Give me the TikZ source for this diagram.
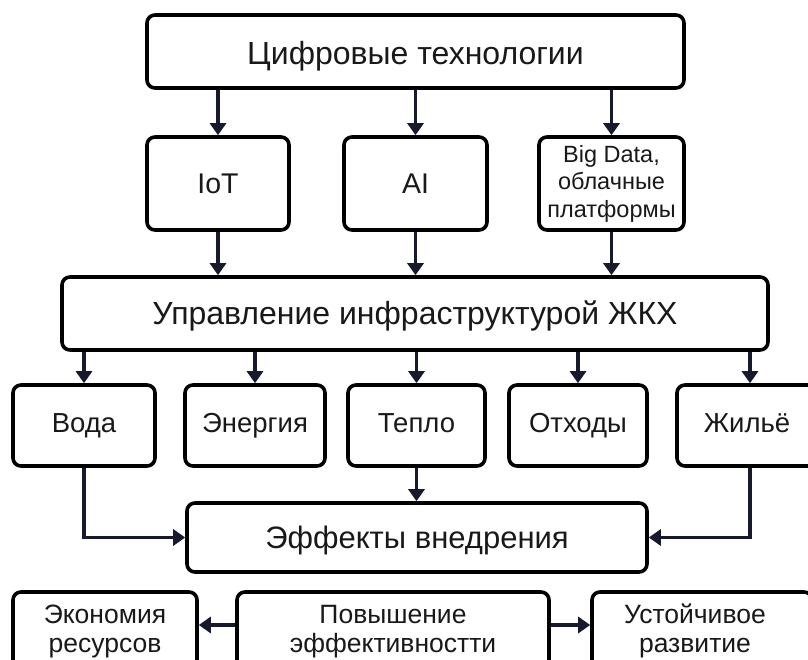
\documentclass[tikz,border=0pt]{standalone}
\usepackage{fontspec}
\setmainfont{Liberation Sans}
\usetikzlibrary{arrows.meta}
\definecolor{arrcol}{RGB}{22,26,44}
\tikzset{
  box/.style={draw=black, line width=3.6pt, rounded corners=8pt, fill=white, inner sep=0pt, align=center, text=black!90},
  sl/.style 2 args={text height=#1, text depth=#2},
  arr/.style={draw=arrcol, line width=3.4pt, -{Triangle[length=12pt,width=16pt]}},
  big/.style={font=\fontsize{32}{36}\selectfont},
  mid/.style={font=\fontsize{27.5}{32}\selectfont},
  sml/.style={font=\fontsize{26.5}{29}\selectfont},
  bd/.style={font=\fontsize{23.5}{27.5}\selectfont},
}
\begin{document}
\begin{tikzpicture}[x=1pt,y=-1pt]
\useasboundingbox[fill=white] (0,0) rectangle (808,660);
% top
\node[box,big,sl={28pt}{2pt},minimum width=537pt,minimum height=73pt] (top) at (415.5,51.5) {Цифровые технологии};
\node[box,sl={24pt}{3.6pt},font=\fontsize{28.5}{32}\selectfont,minimum width=142pt,minimum height=93pt] (iot) at (218,183.5) {IoT};
\node[box,sl={24pt}{3.6pt},font=\fontsize{28.5}{32}\selectfont,minimum width=143pt,minimum height=93pt] (ai) at (415.5,183.5) {AI};
\node[box,bd,minimum width=145pt,minimum height=93pt] (bdata) at (611.5,183.5) {Big Data,\\облачные\\платформы};
\node[box,big,sl={24pt}{3pt},minimum width=706pt,minimum height=73pt] (mgmt) at (415,313.5) {Управление инфраструктурой ЖКХ};
% row
\node[box,mid,sl={20pt}{5.4pt},minimum width=142pt,minimum height=81pt] (voda) at (84,425.5) {Вода};
\node[box,mid,sl={20pt}{5.4pt},minimum width=140pt,minimum height=81pt] (energ) at (255,425.5) {Энергия};
\node[box,mid,sl={20pt}{5.4pt},minimum width=137pt,minimum height=81pt] (teplo) at (416.5,425.5) {Тепло};
\node[box,mid,sl={20pt}{5.4pt},minimum width=138pt,minimum height=81pt] (othody) at (578,425.5) {Отходы};
\node[box,mid,sl={20pt}{5.4pt},minimum width=146pt,minimum height=81pt] (zhilye) at (750,425.5) {\hspace*{-6pt}Жильё};
% effects
\node[box,font=\fontsize{31}{36}\selectfont,sl={25pt}{2.8pt},minimum width=460pt,minimum height=69pt] (eff) at (417,537.5) {Эффекты внедрения};
% bottom
\node[box,sml,minimum width=184pt,minimum height=80pt] (ekon) at (105,632) {\strut Экономия\\\strut ресурсов};
\node[box,sml,minimum width=312pt,minimum height=80pt] (povysh) at (393,632) {\strut Повышение\\\strut эффективностти};
\node[box,sml,minimum width=220pt,minimum height=80pt] (ustoich) at (702,632) {\hspace*{-14pt}\strut Устойчивое\\\hspace*{-14pt}\strut развитие};
% arrows
\draw[arr] (top.south -| iot.north) -- (iot.north);
\draw[arr] (top.south -| ai.north) -- (ai.north);
\draw[arr] (top.south -| bdata.north) -- (bdata.north);
\draw[arr] (iot.south) -- (iot.south |- mgmt.north);
\draw[arr] (ai.south) -- (ai.south |- mgmt.north);
\draw[arr] (bdata.south) -- (bdata.south |- mgmt.north);
\draw[arr] (mgmt.south -| voda.north) -- (voda.north);
\draw[arr] (mgmt.south -| energ.north) -- (energ.north);
\draw[arr] (mgmt.south -| teplo.north) -- (teplo.north);
\draw[arr] (mgmt.south -| othody.north) -- (othody.north);
\draw[arr] (mgmt.south -| zhilye.north) -- (zhilye.north);
\draw[arr] (teplo.south) -- (teplo.south |- eff.north);
\draw[arr] (voda.south) |- (eff.west);
\draw[arr] (zhilye.south) |- (eff.east);
\draw[arr] ([yshift=7pt]povysh.west) -- ([yshift=7pt]ekon.east);
\draw[arr] ([yshift=7pt]povysh.east) -- ([yshift=7pt]ustoich.west);
\end{tikzpicture}
\end{document}
